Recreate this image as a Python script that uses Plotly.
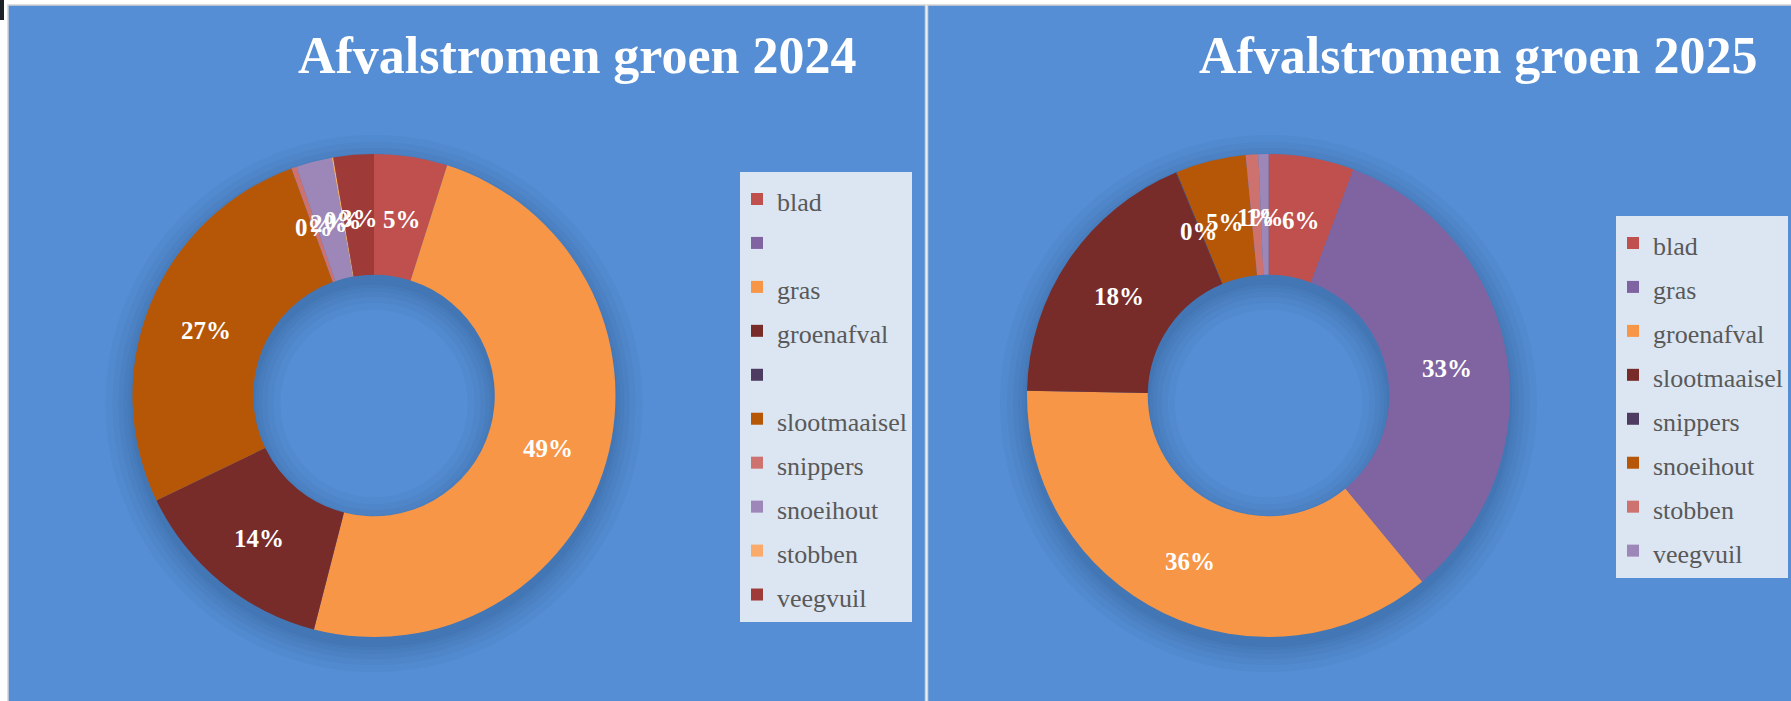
import math
import plotly.graph_objects as go

W, H = 1791, 701

# ---------------- data ----------------
title_2024 = "Afvalstromen groen 2024"
title_2025 = "Afvalstromen groen 2025"

labels_2024 = ["blad", "", "gras", "groenafval", "", "slootmaaisel",
               "snippers", "snoeihout", "stobben", "veegvuil"]
values_2024 = [4.9, 0, 49.1, 13.85, 0, 26.6, 0.35, 2.4, 0.1, 2.7]
colors_2024 = ["#C0504D", "#8064A2", "#F79646", "#772C2A", "#4D3B62",
               "#B65708", "#CE7270", "#9D86B8", "#FAAA6A", "#9E3A38"]

labels_2025 = ["blad", "gras", "groenafval", "slootmaaisel",
               "snippers", "snoeihout", "stobben", "veegvuil"]
values_2025 = [5.72, 33.3, 36.29, 18.42, 0.05, 4.7, 0.84, 0.67]
colors_2025 = ["#C0504D", "#8064A2", "#F79646", "#772C2A",
               "#4D3B62", "#B65708", "#CE7270", "#9D86B8"]

# ---------------- layout constants (pixels) ----------------
BG = "#558ED5"
R_OUT = 241.5
HOLE = 0.5
centers = {"2024": (374.0, 395.5), "2025": (1268.5, 395.5)}
LEGEND_TEXT_PX = 26


def px(x):
    return x / W


def py(y):
    return 1 - y / H


def legend_labels(labels, style):
    # each pie gets its own label strings so both legends list their entries
    out, blanks = [], 0
    for lab in labels:
        if lab == "":
            blanks += 1
            lab = " " * blanks
        out.append('<span style="%s">%s</span>' % (style, lab))
    return out


fig = go.Figure()
shapes = []
annotations = []

# panels / frame
shapes.append(dict(type="rect", xref="paper", yref="paper", layer="below",
                   x0=px(0), x1=px(4), y0=py(20), y1=py(0),
                   fillcolor="#1E2228", line=dict(width=0)))
shapes.append(dict(type="rect", xref="paper", yref="paper", layer="below",
                   x0=px(8), x1=px(925.5), y0=py(710), y1=py(5),
                   fillcolor=BG, line=dict(color="#D4D4D4", width=1.5)))
shapes.append(dict(type="rect", xref="paper", yref="paper", layer="below",
                   x0=px(927.5), x1=px(1800), y0=py(710), y1=py(5),
                   fillcolor=BG, line=dict(color="#D4D4D4", width=1.5)))

# soft shadow rings behind the donuts
for key, (cx, cy) in centers.items():
    r_in = R_OUT * HOLE
    rm = (R_OUT + r_in) / 2
    base = R_OUT - r_in
    scy = cy + 8
    for spread in (2, 5, 9, 14, 20, 27):
        shapes.append(dict(type="circle", xref="paper", yref="paper", layer="below",
                           x0=px(cx - rm), x1=px(cx + rm),
                           y0=py(scy + rm), y1=py(scy - rm),
                           fillcolor="rgba(0,0,0,0)",
                           line=dict(color="rgba(10,30,70,0.034)", width=base + 2 * spread)))


def add_donut(labels, values, colors, key, legend_name, style):
    cx, cy = centers[key]
    fig.add_trace(go.Pie(
        labels=legend_labels(labels, style), values=values,
        marker=dict(colors=colors, line=dict(width=0)),
        hole=HOLE, sort=False, direction="clockwise", rotation=0,
        textinfo="none", hoverinfo="label+percent",
        domain=dict(x=[px(cx - R_OUT), px(cx + R_OUT)],
                    y=[py(cy + R_OUT), py(cy - R_OUT)]),
        legend=legend_name, showlegend=True,
    ))
    total = sum(values)
    r_lab = R_OUT * (1 + HOLE) / 2
    cum = 0.0
    for lab, v in zip(labels, values):
        if lab != "":
            mid = (cum + v / 2) / total * 2 * math.pi
            x = cx + r_lab * math.sin(mid)
            y = cy - r_lab * math.cos(mid)
            pct = int(math.floor(v / total * 100 + 0.5))
            annotations.append(dict(
                x=px(x), y=py(y), xref="paper", yref="paper",
                text="%d%%" % pct, showarrow=False,
                xanchor="center", yanchor="middle", yshift=-3,
                font=dict(family="Liberation Serif", size=25, color="white", weight="bold")))
        cum += v


add_donut(labels_2024, values_2024, colors_2024, "2024", "legend",
          "font-size:%dpx" % LEGEND_TEXT_PX)
add_donut(labels_2025, values_2025, colors_2025, "2025", "legend2",
          "font-size: %dpx;" % LEGEND_TEXT_PX)

for text, xc in ((title_2024, 577), (title_2025, 1478)):
    annotations.append(dict(
        x=px(xc), y=py(55), xref="paper", yref="paper", text=text, showarrow=False,
        xanchor="center", yanchor="middle",
        font=dict(family="Liberation Serif", size=52, color="white", weight="bold")))

legend_font = dict(family="Liberation Serif", size=31.5, color="#595959")
fig.update_layout(
    width=W, height=H,
    margin=dict(l=0, r=0, t=0, b=0),
    paper_bgcolor="#FFFFFF",
    plot_bgcolor="#FFFFFF",
    shapes=shapes,
    annotations=annotations,
    legend=dict(x=px(740), y=py(172), xanchor="left", yanchor="top",
                bgcolor="#DCE6F2", borderwidth=0, font=legend_font, indentation=-3),
    legend2=dict(x=px(1616), y=py(216), xanchor="left", yanchor="top",
                 bgcolor="#DCE6F2", borderwidth=0, font=legend_font, indentation=-3),
)

fig.write_html("out.html", config={"displayModeBar": False},
               post_script="document.body.style.margin='0px';")
